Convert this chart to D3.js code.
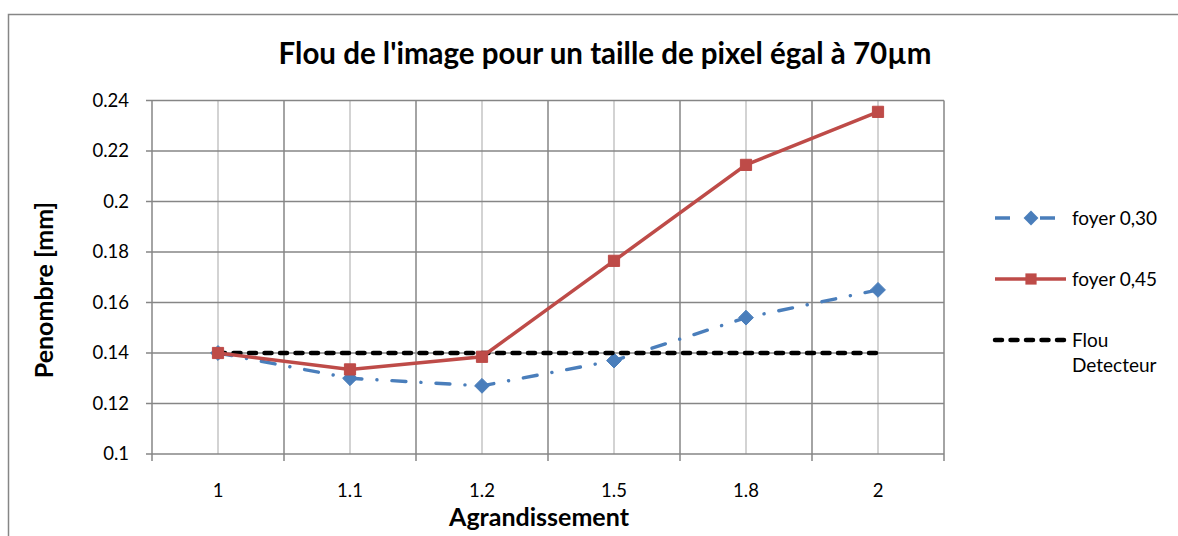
<!DOCTYPE html>
<html>
<head>
<meta charset="utf-8">
<script src="https://cdn.jsdelivr.net/npm/d3@7"></script>
<style>
  html, body { margin: 0; padding: 0; background: #fff; }
  svg { display: block; font-family: Lato, "Open Sans", sans-serif; }
</style>
</head>
<body>
<svg id="chart" width="1178" height="536"></svg>
<script>
// Magnification factors (category axis)
const categories = ["1", "1.1", "1.2", "1.5", "1.8", "2"];
// Penumbra in mm for each focal spot size
const foyer030 = [0.140, 0.130, 0.127, 0.137, 0.154, 0.165];
const foyer045 = [0.140, 0.1335, 0.1385, 0.1765, 0.2145, 0.2355];
const flouDetecteur = [0.14, 0.14, 0.14, 0.14, 0.14, 0.14];
const yTicks = [0.1, 0.12, 0.14, 0.16, 0.18, 0.2, 0.22, 0.24];

const series = [
  { name: "foyer 0,30", values: foyer030, color: "#4a7ebb", dash: "14,15,0.1,15", cap: "round", width: 3.4, marker: "diamond" },
  { name: "foyer 0,45", values: foyer045, color: "#be4b48", dash: null, cap: "butt", width: 3.5, marker: "square" },
  { name: ["Flou", "Detecteur"], values: flouDetecteur, color: "#000", dash: "7,8.5", cap: "round", width: 4.5, marker: null }
];

const svg = d3.select("#chart");
const plot = { left: 152, top: 100.5, right: 944, bottom: 454 };

// Outer chart frame
svg.append("rect")
  .attr("x", 8.5).attr("y", 14.5).attr("width", 1200).attr("height", 600)
  .attr("fill", "#fff").attr("stroke", "#868686").attr("stroke-width", 1.5);

const x = d3.scaleBand().domain(categories).range([plot.left, plot.right]);
const y = d3.scaleLinear().domain([0.1, 0.24]).range([plot.bottom, plot.top]);
const cx = d => x(d) + x.bandwidth() / 2;

const g = svg.append("g");

// Light vertical gridlines at category centres
g.selectAll(".vminor").data(categories).join("line")
  .attr("x1", cx).attr("x2", cx)
  .attr("y1", plot.top).attr("y2", plot.bottom)
  .attr("stroke", "#c4c4c4").attr("stroke-width", 1.5);

// Darker vertical gridlines at category boundaries
const bounds = categories.map(d => x(d)).concat([plot.right]);
g.selectAll(".vmajor").data(bounds).join("line")
  .attr("x1", d => d).attr("x2", d => d)
  .attr("y1", plot.top).attr("y2", plot.bottom + 7)
  .attr("stroke", "#868686").attr("stroke-width", 1.5);

// Horizontal gridlines
g.selectAll(".hgrid").data(yTicks).join("line")
  .attr("x1", plot.left - 6).attr("x2", plot.right)
  .attr("y1", d => y(d)).attr("y2", d => y(d))
  .attr("stroke", "#868686").attr("stroke-width", 1.5);

// Y tick labels
g.selectAll(".ylab").data(yTicks).join("text")
  .attr("x", 129).attr("y", d => y(d))
  .attr("dy", "0.35em").attr("text-anchor", "end")
  .attr("font-size", 18.5).attr("fill", "#000")
  .text(d => String(+d.toFixed(2)));

// X tick labels
g.selectAll(".xlab").data(categories).join("text")
  .attr("x", cx).attr("y", 497)
  .attr("text-anchor", "middle").attr("font-size", 18.5).attr("fill", "#000")
  .text(d => d);

// Lines
const line = d3.line()
  .x((d, i) => cx(categories[i]))
  .y(d => y(d));

const symbolOf = m => m === "diamond" ? d3.symbolDiamond2 : d3.symbolSquare2;
const sizeOf = m => m === "diamond" ? 140 : 160;

const drawOrder = [series[0], series[2], series[1]];
drawOrder.forEach(s => {
  g.append("path").datum(s.values)
    .attr("d", line).attr("fill", "none")
    .attr("stroke", s.color).attr("stroke-width", s.width)
    .attr("stroke-dasharray", s.dash)
    .attr("stroke-linecap", s.cap);
  if (s.marker) {
    g.selectAll(null).data(s.values).join("path")
      .attr("transform", (d, i) => `translate(${cx(categories[i])},${y(d)})`)
      .attr("d", d3.symbol().type(symbolOf(s.marker)).size(sizeOf(s.marker)))
      .attr("fill", s.color).attr("stroke", s.color).attr("stroke-width", 1);
  }
});

// Title and axis titles
svg.append("text").attr("x", 605).attr("y", 64).attr("text-anchor", "middle")
  .attr("font-size", 29.5).attr("font-weight", "bold").text("Flou de l'image pour un taille de pixel égal à 70µm");
svg.append("text").attr("x", 539).attr("y", 526).attr("text-anchor", "middle")
  .attr("font-size", 25).attr("font-weight", "bold").text("Agrandissement");
svg.append("text").attr("transform", "translate(53,290) rotate(-90)").attr("text-anchor", "middle")
  .attr("font-size", 25).attr("font-weight", "bold").text("Penombre [mm]");

// Legend
const legendRows = [218, 279, 340];
series.forEach((s, i) => {
  const ly = legendRows[i];
  const lg = svg.append("g");
  const diamond = s.marker === "diamond";
  lg.append("line").attr("x1", 995).attr("x2", diamond ? 1055 : 1066).attr("y1", ly).attr("y2", ly)
    .attr("stroke", s.color).attr("stroke-width", s.width)
    .attr("stroke-dasharray", diamond ? "15,30" : s.dash)
    .attr("stroke-linecap", diamond ? "butt" : s.cap);
  if (s.marker) {
    lg.append("path").attr("transform", `translate(1031,${ly})`)
      .attr("d", d3.symbol().type(symbolOf(s.marker)).size(sizeOf(s.marker)))
      .attr("fill", s.color);
  }
  const names = Array.isArray(s.name) ? s.name : [s.name];
  names.forEach((n, k) => {
    lg.append("text").attr("x", 1072).attr("y", ly + k * 25).attr("dy", "0.35em")
      .attr("font-size", 19).text(n);
  });
});
</script>
</body>
</html>
